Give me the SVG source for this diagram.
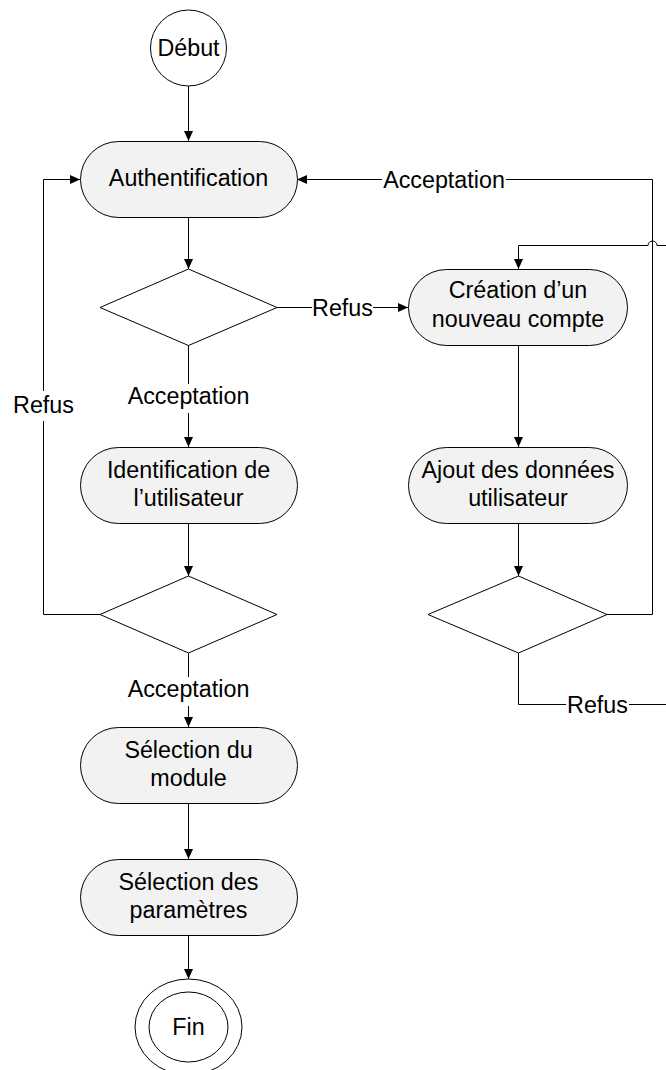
<svg xmlns="http://www.w3.org/2000/svg" width="666" height="1070" viewBox="0 0 666 1070">
  <style>
    .node { fill: #f2f2f2; stroke: #000; stroke-width: 1; }
    .term { fill: #fff; stroke: #000; stroke-width: 1; }
    .dec { fill: #fff; stroke: #000; stroke-width: 1; }
    .edge { fill: none; stroke: #000; stroke-width: 1; }
    text { font-family: "Liberation Sans", Arial, sans-serif; font-size: 23.3px; fill: #000; text-anchor: middle; }
  </style>
  <defs>
    <marker id="arr" markerUnits="userSpaceOnUse" markerWidth="10" markerHeight="9" refX="10" refY="4.5" orient="auto">
      <path d="M0,0 L10,4.5 L0,9 Z" fill="#000"/>
    </marker>
  </defs>

  <!-- connectors -->
  <g id="edges" class="edges">
    <path class="edge" d="M188.5,86 V141" marker-end="url(#arr)"/>
    <path class="edge" d="M188.5,217 V269" marker-end="url(#arr)"/>
    <path class="edge" d="M188.5,345 V384"/>
    <path class="edge" d="M188.5,413 V447" marker-end="url(#arr)"/>
    <text x="188.5" y="404">Acceptation</text>
    <path class="edge" d="M188.5,653 V677"/>
    <path class="edge" d="M188.5,706 V727" marker-end="url(#arr)"/>
    <text x="188.5" y="697">Acceptation</text>
    <path class="edge" d="M188.5,524 V576" marker-end="url(#arr)"/>
    <path class="edge" d="M188.5,803 V859" marker-end="url(#arr)"/>
    <path class="edge" d="M188.5,935 V979" marker-end="url(#arr)"/>

    <!-- diamond 1 refused: towards account creation -->
    <path class="edge" d="M277,307.5 H312"/>
    <path class="edge" d="M373,307.5 H408" marker-end="url(#arr)"/>
    <text x="342.5" y="315.5">Refus</text>

    <path class="edge" d="M518.5,346 V447" marker-end="url(#arr)"/>
    <path class="edge" d="M518.5,524 V576" marker-end="url(#arr)"/>

    <!-- diamond 3 accepted: back to authentication -->
    <path class="edge" d="M607,614.5 H652.5 V179.5 H506"/>
    <path class="edge" d="M382,179.5 H297" marker-end="url(#arr)"/>
    <text x="444" y="187.5">Acceptation</text>

    <!-- diamond 3 refused -->
    <path class="edge" d="M518.5,653 V704.5 H566"/>
    <path class="edge" d="M629,704.5 H666"/>
    <text x="597.5" y="712.5">Refus</text>

    <!-- return into account creation, hopping over the vertical line -->
    <path class="edge" d="M666,245.5 H657 A4.5,4.5 0 0 0 648,245.5 H518.5 V269" marker-end="url(#arr)"/>

    <!-- diamond 2 refused: back to authentication -->
    <path class="edge" d="M100,614.5 H43.5 V421"/>
    <path class="edge" d="M43.5,391 V179.5 H80" marker-end="url(#arr)"/>
    <text x="43.5" y="413">Refus</text>
  </g>

  <g id="debut">
    <circle class="term" cx="188.5" cy="48" r="38"/>
    <text x="188.5" y="56">Début</text>
  </g>

  <g id="authentification">
    <rect class="node" x="80.5" y="141.5" width="217" height="76" rx="38" ry="38"/>
    <text x="188.5" y="186">Authentification</text>
  </g>

  <g id="decision1">
    <polygon class="dec" points="188.5,269 277,307.5 188.5,345.5 100,307.5"/>
  </g>

  <g id="creation">
    <rect class="node" x="408.5" y="269.5" width="219" height="76" rx="38" ry="38"/>
    <text x="518" y="298">Création d’un</text>
    <text x="518" y="327">nouveau compte</text>
  </g>

  <g id="identification">
    <rect class="node" x="80.5" y="447.5" width="217" height="76" rx="38" ry="38"/>
    <text x="188.5" y="478">Identification de</text>
    <text x="188.5" y="506">l’utilisateur</text>
  </g>

  <g id="ajout">
    <rect class="node" x="408.5" y="447.5" width="219" height="76" rx="38" ry="38"/>
    <text x="518" y="478">Ajout des données</text>
    <text x="518" y="506">utilisateur</text>
  </g>

  <g id="decision2">
    <polygon class="dec" points="188.5,576 277,614.5 188.5,653 100,614.5"/>
  </g>

  <g id="decision3">
    <polygon class="dec" points="518.5,576 607,614.5 518.5,653 428,614.5"/>
  </g>

  <g id="selection-module">
    <rect class="node" x="80.5" y="727.5" width="217" height="76" rx="38" ry="38"/>
    <text x="188.5" y="758">Sélection du</text>
    <text x="188.5" y="786">module</text>
  </g>

  <g id="selection-parametres">
    <rect class="node" x="80.5" y="859.5" width="217" height="76" rx="38" ry="38"/>
    <text x="188.5" y="890">Sélection des</text>
    <text x="188.5" y="918">paramètres</text>
  </g>

  <g id="fin">
    <ellipse class="term" cx="188.5" cy="1027" rx="53.5" ry="48"/>
    <ellipse class="term" cx="188.5" cy="1027" rx="39.5" ry="35"/>
    <text x="188.5" y="1035">Fin</text>
  </g>
</svg>
